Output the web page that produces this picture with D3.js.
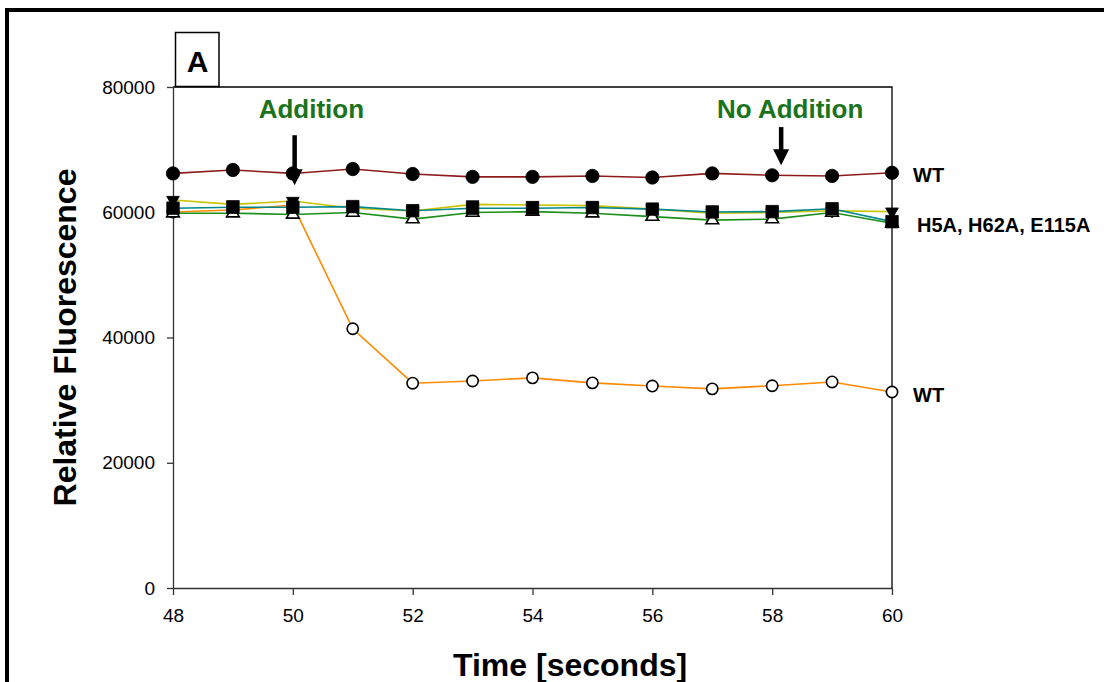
<!DOCTYPE html>
<html>
<head>
<meta charset="utf-8">
<script src="https://cdn.jsdelivr.net/npm/d3@7"></script>
<style>
  body { margin: 0; background: #fff; }
  svg { display: block; font-family: Arial, "Liberation Sans", sans-serif; }
  .axis path, .axis line { stroke: #333; stroke-width: 1.3; }
  .axis text { font-size: 19px; fill: #000; }
</style>
</head>
<body>
<div id="chart"></div>
<script>

  /* -----------------------
      DATA
   -------------------------- */

  //-- TIME POINTS (seconds)
  var times = [48, 49, 50, 51, 52, 53, 54, 55, 56, 57, 58, 59, 60];

  //-- WT, NO ADDITION (filled circles)
  var wtControl = [66200, 66750, 66200, 66900, 66100, 65650, 65650, 65800, 65550, 66200, 65900, 65800, 66300];
  //-- WT, ADDITION (open circles)
  var wtAddition = [60050, 60350, 61150, 41400, 32700, 33050, 33550, 32750, 32250, 31800, 32300, 32900, 31300];
  //-- MUTANTS
  var mutantDown = [61950, 61250, 61800, 60650, 60200, 61250, 61150, 61050, 60500, 59850, 59950, 60250, 60100];
  var mutantSquare = [60650, 60800, 60800, 60900, 60250, 60650, 60650, 60750, 60500, 60050, 60100, 60550, 58500];
  var mutantUp = [59850, 59850, 59650, 59950, 58900, 59950, 60100, 59850, 59300, 58750, 58900, 59950, 58250];

  //-- TICKS
  var xTicks = [48, 50, 52, 54, 56, 58, 60];
  var yTicks = [0, 20000, 40000, 60000, 80000];

  //-- ANNOTATIONS
  var arrowTimes = [50.03, 58.15];
  var arrowTops = [72300, 73600];
  var arrowTips = [64300, 67500];
  var noteLabels = ['Addition', 'No Addition'];
  var noteTimes = [50.31, 58.3];

  /* -----------------------
      SVG, SCALES
   -------------------------- */
  var svgWidth = 1104,
    svgHeight = 682;

  var svg = d3.select('#chart').append('svg')
    .attr('width', svgWidth)
    .attr('height', svgHeight);

  svg.append('rect')
    .attr('width', svgWidth)
    .attr('height', svgHeight)
    .attr('fill', '#fff');

  //-- OUTER FRAME
  svg.append('rect')
    .attr('x', 7)
    .attr('y', 10)
    .attr('width', 1200)
    .attr('height', 900)
    .attr('fill', 'none')
    .attr('stroke', '#000')
    .attr('stroke-width', 4);

  var scaleX = d3.scaleLinear().domain([48, 60]).range([173, 892]);
  var scaleY = d3.scaleLinear().domain([0, 80000]).range([588, 87]);

  //-- PLOT FRAME (top and right)
  svg.append('path')
    .attr('d', 'M' + scaleX(48) + ',' + scaleY(80000) + 'H' + scaleX(60) + 'V' + scaleY(0))
    .attr('fill', 'none')
    .attr('stroke', '#000')
    .attr('stroke-width', 1.3);

  //-- AXES
  svg.append('g')
    .attr('class', 'axis')
    .attr('transform', 'translate(0,' + scaleY(0) + ')')
    .call(d3.axisBottom(scaleX).tickValues(xTicks).tickSize(7).tickPadding(14).tickSizeOuter(0));

  svg.append('g')
    .attr('class', 'axis')
    .attr('transform', 'translate(' + scaleX(48) + ',0)')
    .call(d3.axisLeft(scaleY).tickValues(yTicks).tickSize(6).tickPadding(12).tickSizeOuter(0)
      .tickFormat(function(d) { return d; }));

  //-- AXIS TITLES
  svg.append('text')
    .attr('transform', 'translate(76,' + (scaleY(40000)) + ') rotate(-90)')
    .attr('text-anchor', 'middle')
    .style('font-size', '32px')
    .style('font-weight', 'bold')
    .text('Relative Fluorescence');

  svg.append('text')
    .attr('x', 453)
    .attr('y', 676)
    .style('font-size', '32px')
    .style('font-weight', 'bold')
    .text('Time [seconds]');

  //-- PANEL LETTER
  svg.append('rect')
    .attr('x', 175.5)
    .attr('y', 32.5)
    .attr('width', 43.5)
    .attr('height', 54)
    .attr('fill', '#fff')
    .attr('stroke', '#000')
    .attr('stroke-width', 1.5);

  svg.append('text')
    .attr('x', 197.5)
    .attr('y', 72)
    .attr('text-anchor', 'middle')
    .style('font-size', '30px')
    .style('font-weight', 'bold')
    .text('A');

  /* -----------------------
      SERIES
   -------------------------- */
  var series = [
    { values: wtAddition, color: '#ff8a00', symbol: d3.symbolCircle, size: 100, fill: '#fff', rotate: 0 },
    { values: mutantDown, color: '#c9c300', symbol: d3.symbolTriangle, size: 70, fill: '#000', rotate: 180 },
    { values: mutantUp, color: '#1a8f1a', symbol: d3.symbolTriangle, size: 70, fill: '#fff', rotate: 0 },
    { values: mutantSquare, color: '#00888c', symbol: d3.symbolSquare, size: 155, fill: '#000', rotate: 0 },
    { values: wtControl, color: '#8e1b1b', symbol: d3.symbolCircle, size: 140, fill: '#000', rotate: 0 }
  ];

  var lineFunc = d3.line()
    .x(function(d, i) { return scaleX(times[i]); })
    .y(function(d) { return scaleY(d); });

  series.forEach(function(s) {
    svg.append('path')
      .datum(s.values)
      .attr('d', lineFunc)
      .attr('fill', 'none')
      .attr('stroke', s.color)
      .attr('stroke-width', 1.6);
  });

  series.forEach(function(s) {
    svg.append('g').selectAll('path')
      .data(s.values)
      .enter().append('path')
      .attr('d', d3.symbol().type(s.symbol).size(s.size))
      .attr('transform', function(d, i) {
        return 'translate(' + scaleX(times[i]) + ',' + scaleY(d) + ') rotate(' + s.rotate + ')';
      })
      .attr('fill', s.fill)
      .attr('stroke', '#000')
      .attr('stroke-width', s.fill === '#fff' ? 1.6 : 0.8);
  });

  //-- SERIES LABELS
  var last = times.length - 1;
  var seriesLabels = [
    { text: 'WT', value: wtControl[last], dy: 2 },
    { text: 'H5A, H62A, E115A', value: mutantSquare[last], dy: 3, dx: 4 },
    { text: 'WT', value: wtAddition[last], dy: 3 }
  ];

  svg.selectAll('.series-label')
    .data(seriesLabels)
    .enter().append('text')
    .attr('class', 'series-label')
    .attr('x', function(d) { return scaleX(60) + 21 + (d.dx || 0); })
    .attr('y', function(d) { return scaleY(d.value) + d.dy; })
    .attr('dominant-baseline', 'central')
    .style('font-size', '20px')
    .style('font-weight', 'bold')
    .text(function(d) { return d.text; });

  /* -----------------------
      ANNOTATIONS
   -------------------------- */
  arrowTimes.forEach(function(t, i) {
    var ax = scaleX(t),
      top = scaleY(arrowTops[i]),
      tip = scaleY(arrowTips[i]);

    svg.append('line')
      .attr('x1', ax).attr('x2', ax)
      .attr('y1', top).attr('y2', tip - 12)
      .attr('stroke', '#000')
      .attr('stroke-width', 4.5);

    svg.append('path')
      .attr('d', 'M' + (ax - 8) + ',' + (tip - 16) + 'L' + (ax + 8) + ',' + (tip - 16) + 'L' + ax + ',' + tip + 'Z')
      .attr('fill', '#000');
  });

  noteLabels.forEach(function(label, i) {
    svg.append('text')
      .attr('x', scaleX(noteTimes[i]))
      .attr('y', 118)
      .attr('text-anchor', 'middle')
      .style('font-size', '26px')
      .style('font-weight', 'bold')
      .style('fill', '#1b731b')
      .text(label);
  });

</script>
</body>
</html>
